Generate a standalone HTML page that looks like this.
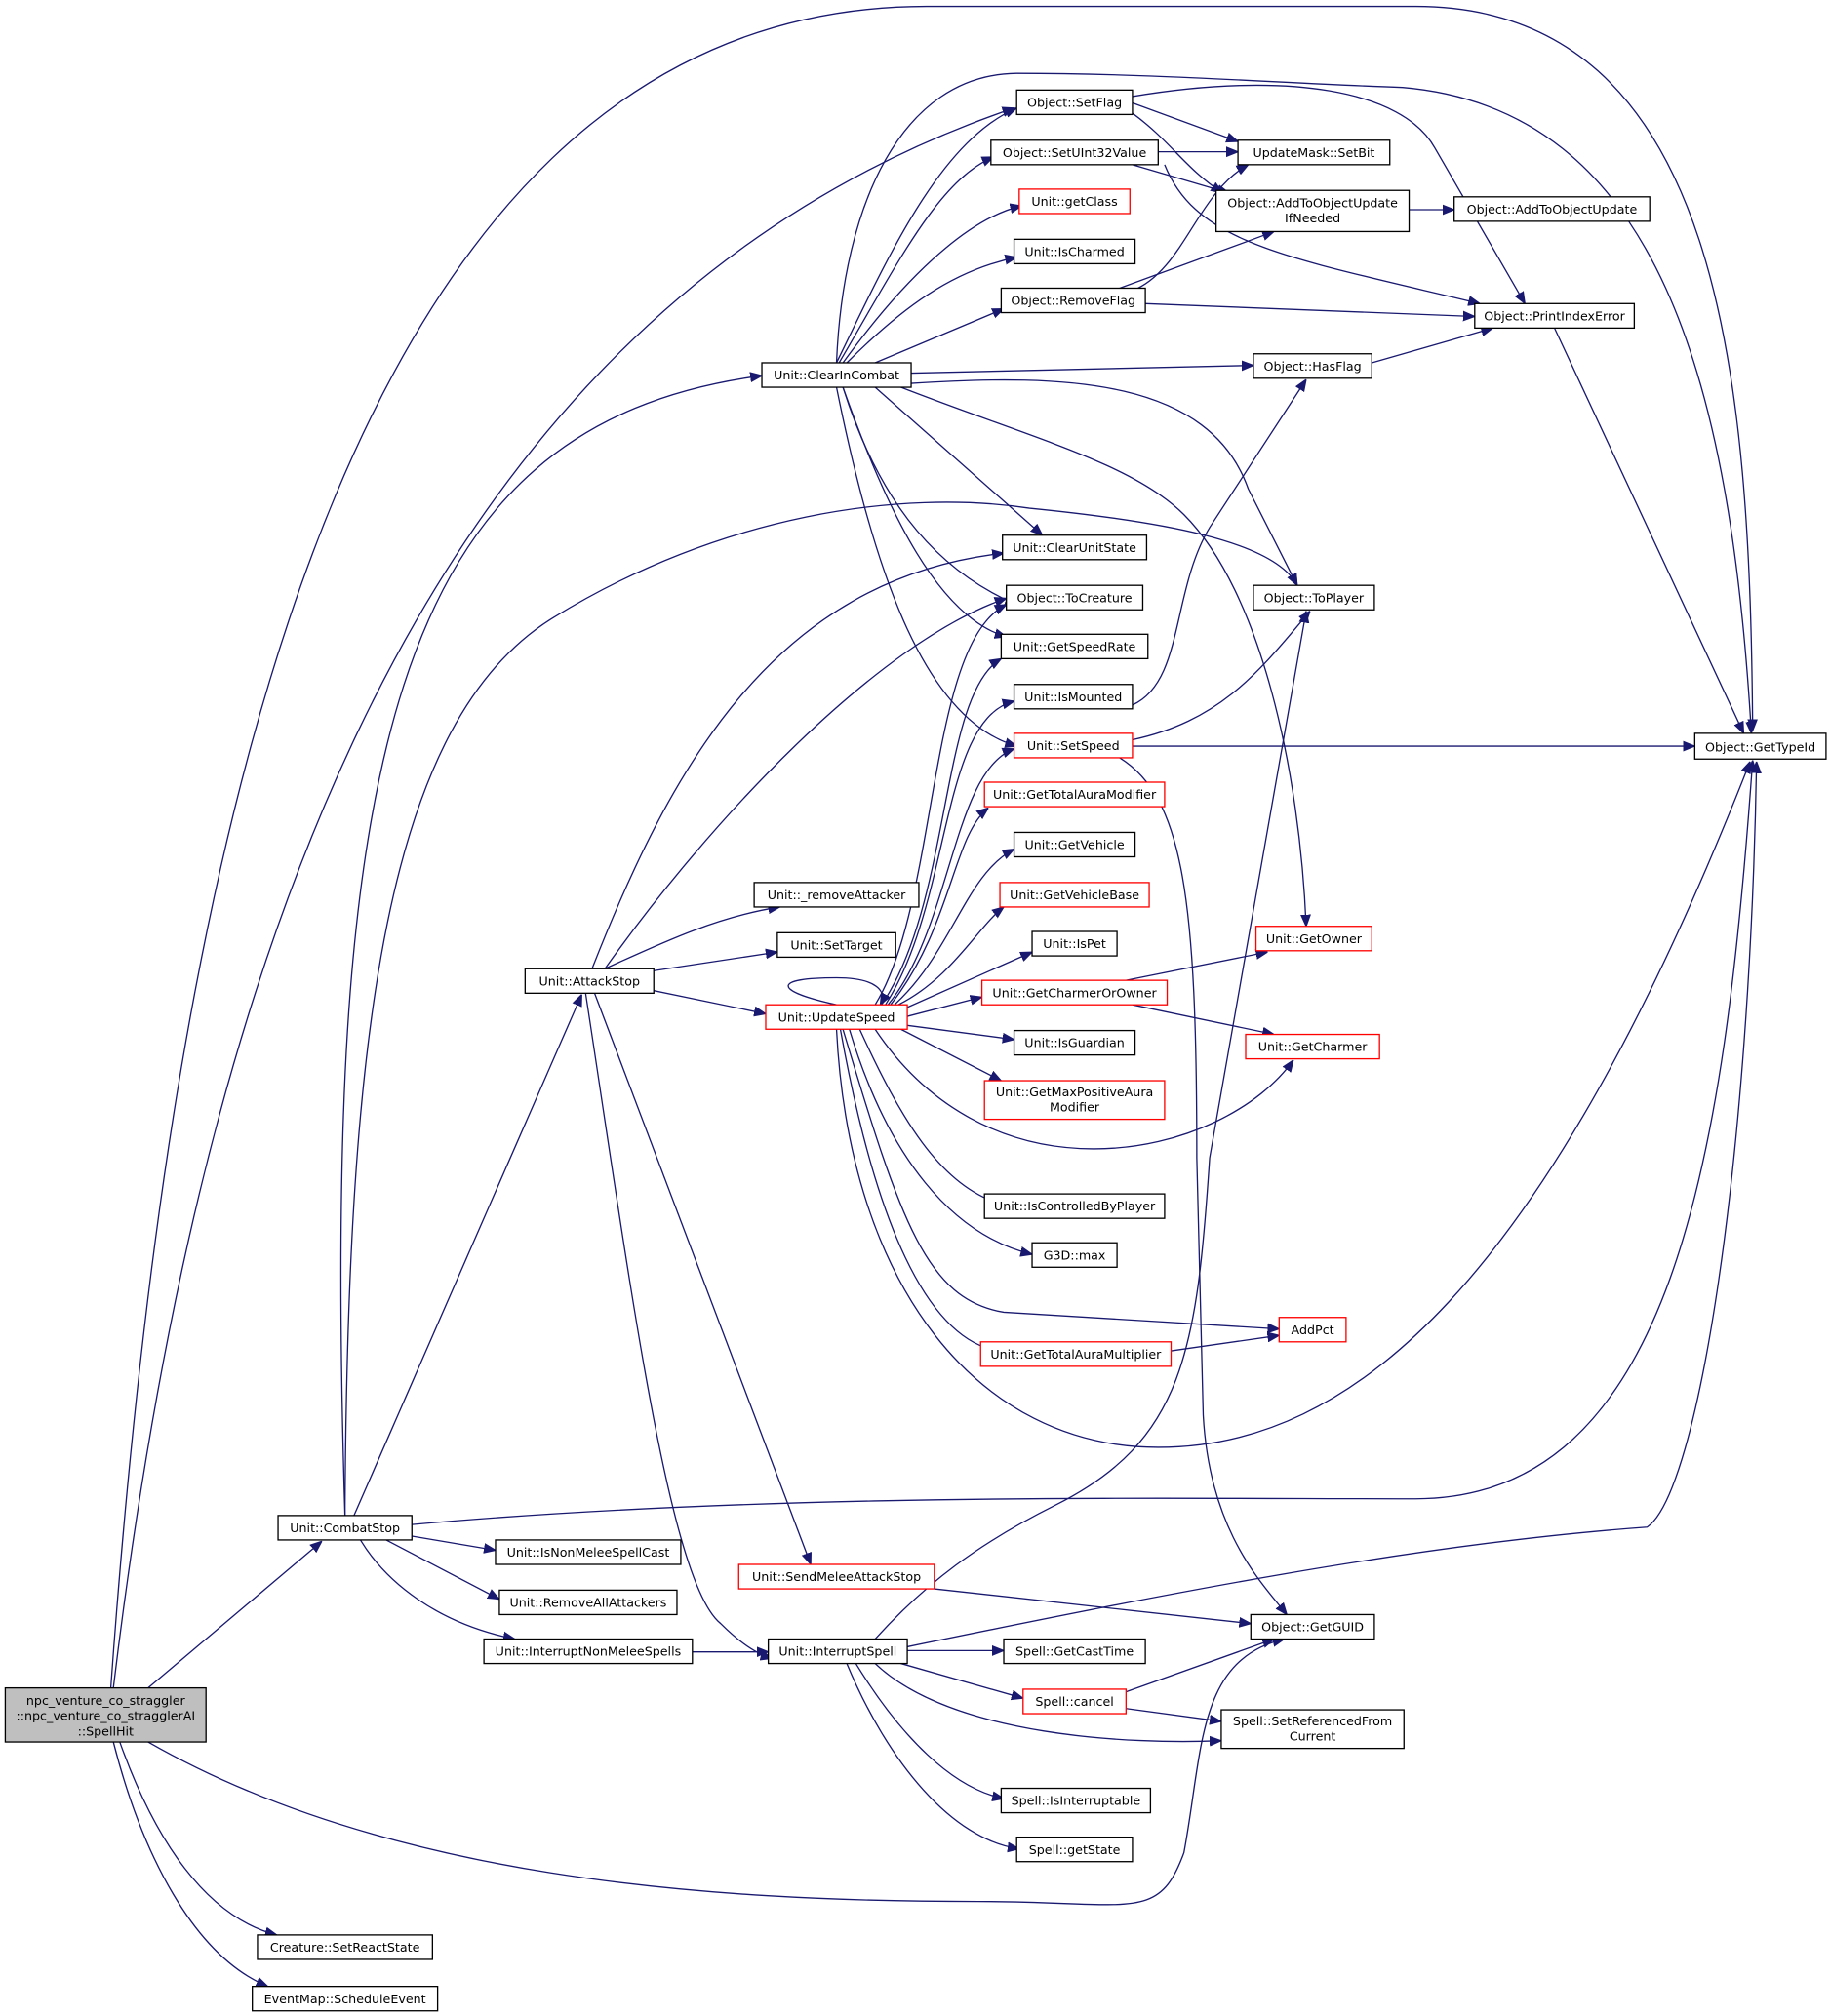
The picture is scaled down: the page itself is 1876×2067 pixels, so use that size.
<!DOCTYPE html>
<html><head><meta charset="utf-8"><style>
html,body{margin:0;padding:0;background:#fff;}
svg{display:block;}
text{font-family:"DejaVu Sans","Liberation Sans",sans-serif;font-size:9.6px;fill:#000;}
.n{fill:#fff;stroke:#000;stroke-width:1;}
.r{fill:#fff;stroke:#f00;stroke-width:1;}
.e{fill:none;stroke:#191970;stroke-width:1;marker-end:url(#a);}
</style></head><body>
<svg width="1876" height="2067" viewBox="0 0 1422 1567" xmlns="http://www.w3.org/2000/svg">
<defs><marker id="a" viewBox="0 0 10 10" refX="10" refY="5" markerWidth="9" markerHeight="9" orient="auto" markerUnits="userSpaceOnUse"><path d="M0,1 L10,5 L0,9 z" fill="#191970" stroke="#191970"/></marker></defs>
<g>
<path class="e" d="M86,1312 C130,700 250,5 720,5 L1100,5 C1340,5 1360,300 1362,568"/>
<path class="e" d="M88,1312 C150,800 300,250 788,84"/>
<path class="e" d="M115,1312 L250,1198"/>
<path class="e" d="M115,1354 C300,1460 550,1478 760,1478 C880,1478 900,1495 920,1440 C935,1360 930,1290 998,1274"/>
<path class="e" d="M93,1354 C120,1430 160,1490 215,1504"/>
<path class="e" d="M88,1354 C110,1440 150,1520 208,1544"/>
<path class="e" d="M268,1178 C250,600 300,330 592,292"/>
<path class="e" d="M275,1178 L452,773"/>
<path class="e" d="M268,1178 C270,800 300,560 430,480 C560,400 700,380 800,395 C900,405 990,420 1008,455"/>
<path class="e" d="M320,1185 C600,1160 900,1165 1100,1165 C1300,1165 1340,900 1362,591"/>
<path class="e" d="M320,1194 L385,1205"/>
<path class="e" d="M300,1197 L388,1243"/>
<path class="e" d="M280,1197 C300,1230 340,1262 400,1274"/>
<path class="e" d="M538,1284 L597,1284"/>
<path class="e" d="M470,753 C520,730 560,712 606,705"/>
<path class="e" d="M505,755 L604,740"/>
<path class="e" d="M508,770 L595,788"/>
<path class="e" d="M460,753 C520,600 600,450 780,430"/>
<path class="e" d="M470,753 C550,640 680,500 782,465"/>
<path class="e" d="M462,772 L630,1216"/>
<path class="e" d="M455,772 C490,1000 520,1230 560,1262 C570,1272 585,1285 600,1289"/>
<path class="e" d="M650,282 C690,200 730,110 790,84"/>
<path class="e" d="M652,282 C700,200 730,140 772,122"/>
<path class="e" d="M655,282 C700,220 750,170 794,160"/>
<path class="e" d="M658,282 C700,240 740,210 790,200"/>
<path class="e" d="M680,282 L780,240"/>
<path class="e" d="M650,282 C655,160 700,58 790,57 C900,57 1000,65 1090,68 C1290,85 1345,300 1361,570"/>
<path class="e" d="M708,290 L974,284"/>
<path class="e" d="M708,298 C830,290 940,295 970,380 L1008,455"/>
<path class="e" d="M700,301 C800,340 880,360 920,400 C980,460 1010,600 1015,720"/>
<path class="e" d="M680,301 L810,416"/>
<path class="e" d="M655,301 C680,380 720,440 790,470"/>
<path class="e" d="M655,301 C690,400 730,480 782,495"/>
<path class="e" d="M650,301 C680,450 720,560 790,580"/>
<path class="e" d="M880,80 L962,110"/>
<path class="e" d="M880,88 C910,110 920,130 950,150"/>
<path class="e" d="M880,75 C1000,55 1090,70 1115,115 L1185,236"/>
<path class="e" d="M900,118 L962,118"/>
<path class="e" d="M880,128 L955,150"/>
<path class="e" d="M905,128 C930,190 1000,200 1150,236"/>
<path class="e" d="M880,226 C920,210 930,150 970,128"/>
<path class="e" d="M870,224 L990,180"/>
<path class="e" d="M890,236 L1146,246"/>
<path class="e" d="M1095,163 L1130,163"/>
<path class="e" d="M1066,282 L1160,255"/>
<path class="e" d="M1208,255 L1355,570"/>
<path class="e" d="M880,548 C920,530 910,460 940,410 L1015,295"/>
<path class="e" d="M880,575 C950,560 980,520 1018,475"/>
<path class="e" d="M880,580 L1317,580"/>
<path class="e" d="M870,589 C920,620 930,700 930,900 L935,1100 C940,1190 980,1230 1000,1255"/>
<path class="e" d="M650,781 C600,770 600,760 650,760 C680,760 690,770 684,781"/>
<path class="e" d="M680,781 C730,700 720,500 782,470"/>
<path class="e" d="M685,781 C740,700 730,540 778,512"/>
<path class="e" d="M688,781 C740,700 730,560 788,545"/>
<path class="e" d="M690,781 C740,720 740,600 788,582"/>
<path class="e" d="M692,781 C740,720 740,650 768,628"/>
<path class="e" d="M695,781 C740,740 750,680 788,660"/>
<path class="e" d="M698,781 C740,760 760,720 780,705"/>
<path class="e" d="M705,783 L802,740"/>
<path class="e" d="M705,790 L763,775"/>
<path class="e" d="M705,797 L788,808"/>
<path class="e" d="M700,800 L778,840"/>
<path class="e" d="M680,800 C720,860 780,893 850,893 C920,893 980,860 1005,824"/>
<path class="e" d="M668,800 C700,870 730,920 775,935"/>
<path class="e" d="M660,800 C690,900 740,960 802,975"/>
<path class="e" d="M655,800 C700,950 720,1010 780,1020 L994,1033"/>
<path class="e" d="M653,800 C680,950 720,1040 775,1050"/>
<path class="e" d="M650,800 C660,1000 760,1125 900,1125 C1050,1125 1200,1000 1360,592"/>
<path class="e" d="M875,762 L985,740"/>
<path class="e" d="M880,781 L990,804"/>
<path class="e" d="M910,1050 L994,1038"/>
<path class="e" d="M726,1235 L972,1262"/>
<path class="e" d="M705,1283 L780,1283"/>
<path class="e" d="M700,1293 L795,1320"/>
<path class="e" d="M680,1293 C740,1350 880,1356 949,1353"/>
<path class="e" d="M665,1293 C700,1350 740,1390 780,1398"/>
<path class="e" d="M658,1293 C690,1370 740,1430 792,1437"/>
<path class="e" d="M680,1274 C720,1230 760,1200 820,1170 C920,1120 930,1050 940,900 L1015,475"/>
<path class="e" d="M705,1280 C900,1240 1100,1200 1280,1187 C1320,1160 1360,900 1365,592"/>
<path class="e" d="M875,1315 L990,1274"/>
<path class="e" d="M875,1328 L949,1338"/>
</g>
<g>
<rect x="4" y="1312" width="156" height="42" fill="#bfbfbf" stroke="#000"/>
<text x="82" y="1325" text-anchor="middle">npc_venture_co_straggler</text>
<text x="82" y="1337" text-anchor="middle">::npc_venture_co_stragglerAI</text>
<text x="82" y="1349" text-anchor="middle">::SpellHit</text>
</g>
<g text-anchor="middle">
<rect class="n" x="200" y="1504" width="136" height="19"/><text x="268" y="1517">Creature::SetReactState</text>
<rect class="n" x="196" y="1544" width="144" height="19"/><text x="268" y="1557">EventMap::ScheduleEvent</text>
<rect class="n" x="216" y="1178" width="104" height="19"/><text x="268" y="1191">Unit::CombatStop</text>
<rect class="n" x="385" y="1197" width="144" height="19"/><text x="457" y="1210">Unit::IsNonMeleeSpellCast</text>
<rect class="n" x="388" y="1236" width="138" height="19"/><text x="457" y="1249">Unit::RemoveAllAttackers</text>
<rect class="n" x="376" y="1274" width="162" height="19"/><text x="457" y="1287">Unit::InterruptNonMeleeSpells</text>
<rect class="n" x="597" y="1274" width="108" height="19"/><text x="651" y="1287">Unit::InterruptSpell</text>
<rect class="r" x="574" y="1216" width="152" height="19"/><text x="650" y="1229">Unit::SendMeleeAttackStop</text>
<rect class="n" x="780" y="1274" width="110" height="19"/><text x="835" y="1287">Spell::GetCastTime</text>
<rect class="r" x="795" y="1313" width="80" height="19"/><text x="835" y="1326">Spell::cancel</text>
<rect class="n" x="778" y="1390" width="116" height="19"/><text x="836" y="1403">Spell::IsInterruptable</text>
<rect class="n" x="790" y="1428" width="90" height="19"/><text x="835" y="1441">Spell::getState</text>
<rect class="n" x="949" y="1329" width="142" height="30"/><text x="1020" y="1341">Spell::SetReferencedFrom</text><text x="1020" y="1353">Current</text>
<rect class="n" x="972" y="1255" width="96" height="19"/><text x="1020" y="1268">Object::GetGUID</text>
<rect class="n" x="408" y="753" width="100" height="19"/><text x="458" y="766">Unit::AttackStop</text>
<rect class="n" x="586" y="686" width="128" height="19"/><text x="650" y="699">Unit::_removeAttacker</text>
<rect class="n" x="604" y="725" width="92" height="19"/><text x="650" y="738">Unit::SetTarget</text>
<rect class="r" x="595" y="781" width="110" height="19"/><text x="650" y="794">Unit::UpdateSpeed</text>
<rect class="n" x="592" y="282" width="116" height="19"/><text x="650" y="295">Unit::ClearInCombat</text>
<rect class="n" x="790" y="70" width="90" height="19"/><text x="835" y="83">Object::SetFlag</text>
<rect class="n" x="770" y="109" width="130" height="19"/><text x="835" y="122">Object::SetUInt32Value</text>
<rect class="r" x="792" y="147" width="86" height="19"/><text x="835" y="160">Unit::getClass</text>
<rect class="n" x="788" y="186" width="94" height="19"/><text x="835" y="199">Unit::IsCharmed</text>
<rect class="n" x="778" y="224" width="112" height="19"/><text x="834" y="237">Object::RemoveFlag</text>
<rect class="n" x="779" y="416" width="112" height="19"/><text x="835" y="429">Unit::ClearUnitState</text>
<rect class="n" x="782" y="455" width="106" height="19"/><text x="835" y="468">Object::ToCreature</text>
<rect class="n" x="778" y="493" width="114" height="19"/><text x="835" y="506">Unit::GetSpeedRate</text>
<rect class="n" x="788" y="532" width="92" height="19"/><text x="834" y="545">Unit::IsMounted</text>
<rect class="r" x="788" y="570" width="92" height="19"/><text x="834" y="583">Unit::SetSpeed</text>
<rect class="r" x="765" y="608" width="140" height="19"/><text x="835" y="621">Unit::GetTotalAuraModifier</text>
<rect class="n" x="788" y="647" width="94" height="19"/><text x="835" y="660">Unit::GetVehicle</text>
<rect class="r" x="777" y="686" width="116" height="19"/><text x="835" y="699">Unit::GetVehicleBase</text>
<rect class="n" x="802" y="724" width="66" height="19"/><text x="835" y="737">Unit::IsPet</text>
<rect class="r" x="763" y="762" width="144" height="19"/><text x="835" y="775">Unit::GetCharmerOrOwner</text>
<rect class="n" x="788" y="801" width="94" height="19"/><text x="835" y="814">Unit::IsGuardian</text>
<rect class="r" x="765" y="840" width="140" height="30"/><text x="835" y="852">Unit::GetMaxPositiveAura</text><text x="835" y="864">Modifier</text>
<rect class="n" x="765" y="928" width="140" height="19"/><text x="835" y="941">Unit::IsControlledByPlayer</text>
<rect class="n" x="802" y="966" width="66" height="19"/><text x="835" y="979">G3D::max</text>
<rect class="r" x="762" y="1043" width="148" height="19"/><text x="836" y="1056">Unit::GetTotalAuraMultiplier</text>
<rect class="r" x="994" y="1024" width="52" height="19"/><text x="1020" y="1037">AddPct</text>
<rect class="n" x="962" y="109" width="118" height="19"/><text x="1021" y="122">UpdateMask::SetBit</text>
<rect class="n" x="945" y="148" width="150" height="32"/><text x="1020" y="161">Object::AddToObjectUpdate</text><text x="1020" y="173">IfNeeded</text>
<rect class="n" x="1130" y="153" width="152" height="19"/><text x="1206" y="166">Object::AddToObjectUpdate</text>
<rect class="n" x="1146" y="236" width="124" height="19"/><text x="1208" y="249">Object::PrintIndexError</text>
<rect class="n" x="974" y="275" width="92" height="19"/><text x="1020" y="288">Object::HasFlag</text>
<rect class="n" x="974" y="455" width="94" height="19"/><text x="1021" y="468">Object::ToPlayer</text>
<rect class="r" x="976" y="720" width="90" height="19"/><text x="1021" y="733">Unit::GetOwner</text>
<rect class="r" x="968" y="804" width="104" height="19"/><text x="1020" y="817">Unit::GetCharmer</text>
<rect class="n" x="1317" y="570" width="102" height="20"/><text x="1368" y="584">Object::GetTypeId</text>
</g>
</svg>
</body></html>
